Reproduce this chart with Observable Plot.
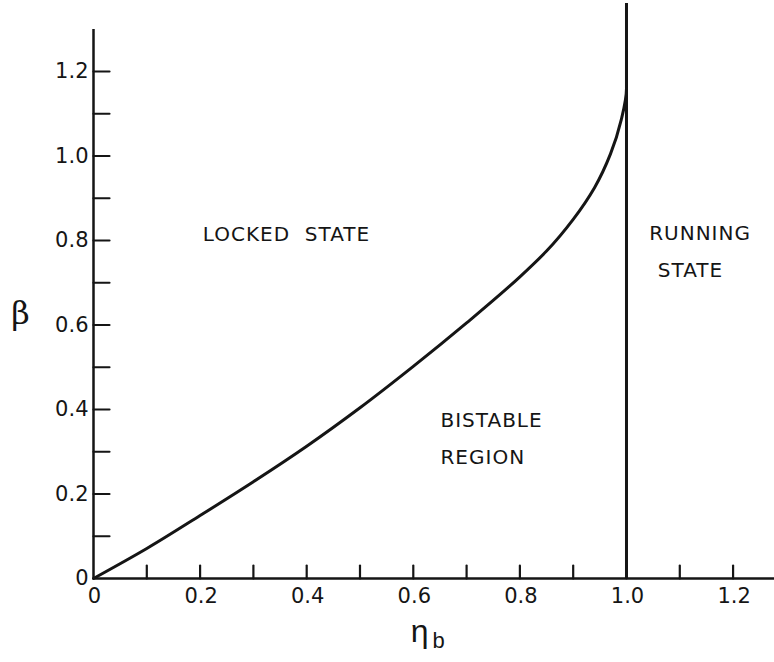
<!DOCTYPE html>
<html><head><meta charset="utf-8">
<script src="https://cdn.jsdelivr.net/npm/d3@7"></script>
<script src="https://cdn.jsdelivr.net/npm/@observablehq/plot@0.6"></script>
<style>body{margin:0;background:#fff} svg{display:block}</style>
</head><body><div id="chart"></div>
<script>
// Boundary curve between locked state and bistable region
const eta  = [0, 0.1, 0.2, 0.3, 0.4, 0.5, 0.6, 0.7, 0.8, 0.85, 0.9, 0.94, 0.97, 0.99, 1.0, 1.0];
const beta = [0, 0.071, 0.149, 0.229, 0.313, 0.404, 0.502, 0.605, 0.714, 0.775, 0.85, 0.925, 1.005, 1.085, 1.16, 1.25];

// Tick values and labels
const xTicks = [0.1, 0.2, 0.3, 0.4, 0.5, 0.6, 0.7, 0.8, 0.9, 1.0, 1.1, 1.2];
const yTicks = [0.1, 0.2, 0.3, 0.4, 0.5, 0.6, 0.7, 0.8, 0.9, 1.0, 1.1, 1.2];
const xTickLabels = [0, 0.2, 0.4, 0.6, 0.8, 1.0, 1.2];
const yTickLabels = [0, 0.2, 0.4, 0.6, 0.8, 1.0, 1.2];

// Region annotations
const leftText  = ["LOCKED  STATE", "BISTABLE", "REGION"];
const leftEta   = [0.205, 0.651, 0.651];
const leftBeta  = [0.815, 0.374, 0.286];
const rightText = ["RUNNING", "STATE"];
const rightEta  = [1.138, 1.12];
const rightBeta = [0.817, 0.729];

const curve = eta.map((e, i) => ({eta: e, beta: beta[i]}));
const leftLabels = leftText.map((t, i) => ({t, x: leftEta[i], y: leftBeta[i]}));
const rightLabels = rightText.map((t, i) => ({t, x: rightEta[i], y: rightBeta[i]}));

const ink = "#151515";
const font = "DejaVu Sans";
const tickShape = {draw(context, l) { context.moveTo(0, 0); context.lineTo(0, -l); }};
const fmt = d => d === 0 ? "0" : d.toFixed(1);

const chart = Plot.plot({
  width: 774,
  height: 662,
  marginLeft: 93,
  marginRight: 0,
  marginTop: 29,
  marginBottom: 84,
  style: {background: "#fff", fontFamily: font, color: ink},
  x: {domain: [0, 1.2777], axis: null},
  y: {domain: [0, 1.2994], axis: null},
  marks: [
    // axes lines
    Plot.ruleY([0], {x1: 0, x2: 1.2777, stroke: ink, strokeWidth: 2.5}),
    Plot.ruleX([0], {y1: 0, y2: 1.2994, stroke: ink, strokeWidth: 2.5}),
    // inward ticks
    Plot.vector(xTicks, {x: d => d, y: 0, length: 13, rotate: 0, anchor: "start", shape: tickShape, stroke: ink, strokeWidth: 2.2}),
    Plot.vector(yTicks, {x: 0, y: d => d, length: 16, rotate: 90, anchor: "start", shape: tickShape, stroke: ink, strokeWidth: 2.2}),
    // tick labels
    Plot.text(xTickLabels, {x: d => d, y: 0, text: fmt, dy: 18, dx: 1, fontSize: 21, fill: ink, fontFamily: font, textAnchor: "middle"}),
    Plot.text(yTickLabels, {x: 0, y: d => d, text: fmt, dx: -5, fontSize: 21, fill: ink, fontFamily: font, textAnchor: "end"}),
    // vertical boundary at eta_b = 1
    Plot.ruleX([1.0], {y1: 0, y2: 1.361, stroke: ink, strokeWidth: 3}),
    // boundary curve
    Plot.line(curve, {x: "eta", y: "beta", curve: "monotone-y", stroke: ink, strokeWidth: 3}),
    // region labels
    Plot.text(leftLabels, {x: "x", y: "y", text: "t", textAnchor: "start", fontSize: 20, fill: ink, fontFamily: font}),
    Plot.text(rightLabels, {x: "x", y: "y", text: "t", textAnchor: "middle", fontSize: 20, fill: ink, fontFamily: font}),
    // axis titles
    Plot.text(["β"], {x: -0.137, y: 0.627, fontSize: 32, fill: ink, fontFamily: "DejaVu Serif"}),
    Plot.text(["η"], {x: 0.612, y: -0.127, fontSize: 32, fill: ink, fontFamily: "Liberation Sans"}),
    Plot.text(["b"], {x: 0.612, y: -0.127, dx: 19, dy: 9, fontSize: 22, fill: ink, fontFamily: "Liberation Sans"})
  ]
});
d3.select(chart).selectAll("text").filter(function() {
  const t = this.textContent; return leftText.includes(t) || rightText.includes(t);
}).style("letter-spacing", "1px");
document.getElementById("chart").append(chart);
</script>
</body></html>
